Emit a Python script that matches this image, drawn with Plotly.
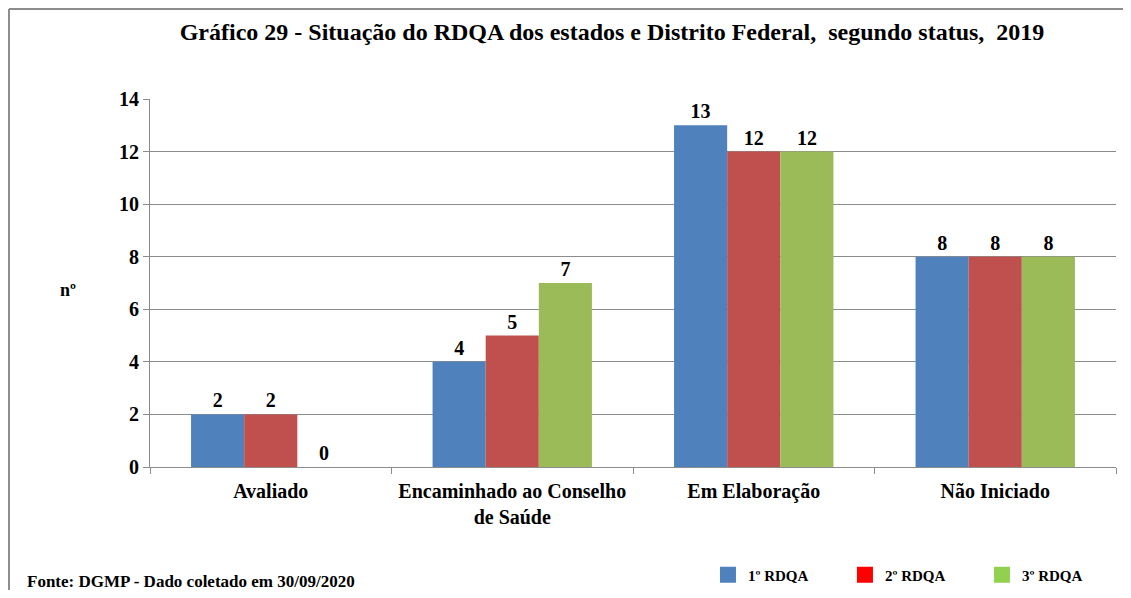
import plotly.graph_objects as go

categories = ["Avaliado", "Encaminhado ao Conselho<br>de Saúde", "Em Elaboração", "Não Iniciado"]
series_names = ["1º RDQA", "2º RDQA", "3º RDQA"]
rdqa1 = [2, 4, 13, 8]
rdqa2 = [2, 5, 12, 8]
rdqa3 = [0, 7, 12, 8]
bar_colors = ["#4F81BD", "#C0504D", "#9BBB59"]
legend_colors = ["#4F81BD", "#FF0000", "#92D050"]
y_ticks = [0, 2, 4, 6, 8, 10, 12, 14]

FONT = "'Times New Roman', 'Liberation Serif', 'DejaVu Serif', serif"

fig = go.Figure()
for name, vals, col in zip(series_names, [rdqa1, rdqa2, rdqa3], bar_colors):
    fig.add_trace(go.Bar(
        x=categories, y=vals, name=name, marker=dict(color=col, line=dict(width=0)),
        text=[str(v) for v in vals], textposition="outside",
        textfont=dict(family=FONT, size=20, color="#000", weight="bold"),
        cliponaxis=False, showlegend=False,
    ))
for name, col in zip(series_names, legend_colors):
    fig.add_trace(go.Scatter(
        x=[None], y=[None], mode="markers", name=name,
        marker=dict(symbol="square", size=20, color=col),
    ))

fig.update_layout(
    width=1115, height=582,
    paper_bgcolor="white", plot_bgcolor="white",
    margin=dict(l=142, r=7, t=91, b=123, autoexpand=False),
    barmode="group", bargap=0.34, bargroupgap=0,
    font=dict(family=FONT, color="#000"),
    title=dict(text="Gráfico 29 - Situação do RDQA dos estados e Distrito Federal,  segundo status,  2019",
               x=0.5417, xanchor="center", y=0.9588, yanchor="middle",
               font=dict(family=FONT, size=24, color="#000", weight="bold")),
    showlegend=True,
    legend=dict(orientation="h", x=0.5776, xanchor="left", y=-0.2935, yanchor="middle",
                font=dict(family=FONT, size=15, color="#000", weight="bold"),
                entrywidth=92, itemsizing="trace", bgcolor="rgba(0,0,0,0)"),
    yaxis=dict(range=[0, 14], tickvals=y_ticks, showgrid=True, gridcolor="#8C8C8C", gridwidth=1,
               showline=True, linecolor="#8C8C8C", linewidth=1,
               ticks="outside", ticklen=6, tickcolor="#8C8C8C",
               tickfont=dict(family=FONT, size=20, color="#000", weight="bold"), zeroline=False,
               automargin=False),
    xaxis=dict(showline=True, linecolor="#8C8C8C", linewidth=1,
               ticks="outside", ticklen=6, tickcolor="#8C8C8C", tickson="boundaries",
               tickangle=0, automargin=False, ticklabelstandoff=6,
               tickfont=dict(family=FONT, size=20, color="#000", weight="bold")),
)

fig.add_annotation(text="nº", xref="paper", yref="paper", x=-0.0849, y=0.481,
                   xanchor="center", yanchor="middle",
                   showarrow=False, font=dict(family=FONT, size=18, color="#000", weight="bold"))
fig.add_annotation(text="Fonte: DGMP - Dado coletado em 30/09/2020", xref="paper", yref="paper",
                   x=-0.1294, xanchor="left", y=-0.3098, yanchor="middle",
                   showarrow=False, font=dict(family=FONT, size=17, color="#000", weight="bold"))

# Chart frame (top and left edges)
fig.add_shape(type="line", xref="paper", yref="paper", x0=-0.146, x1=1.01, y0=1.2446, y1=1.2446,
              line=dict(color="#8C8C8C", width=2))
fig.add_shape(type="line", xref="paper", yref="paper", x0=-0.146, x1=-0.146, y0=1.2446, y1=-0.36,
              line=dict(color="#8C8C8C", width=2))

fig.write_html("out.html")
